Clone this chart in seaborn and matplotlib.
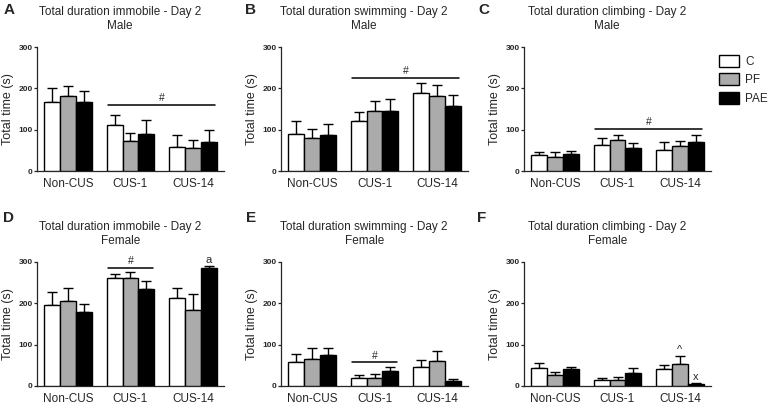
import pandas as pd
import seaborn as sns
import matplotlib.pyplot as plt
from matplotlib.patches import Patch

# categories
groups = ["Non-CUS", "CUS-1", "CUS-14"]
treatments = ["C", "PF", "PAE"]
bar_colors = ["#ffffff", "#ababab", "#000000"]

# means and SEM, rows = groups, cols = C / PF / PAE
immobile_male = [[166, 182, 167], [111, 73, 90], [58, 55, 69]]
immobile_male_sem = [[35, 24, 26], [25, 20, 33], [28, 19, 29]]
swimming_male = [[90, 79, 87], [122, 146, 145], [188, 182, 157]]
swimming_male_sem = [[32, 22, 27], [20, 23, 28], [26, 25, 27]]
climbing_male = [[39, 33, 41], [63, 75, 56], [51, 60, 69]]
climbing_male_sem = [[8, 12, 7], [17, 11, 11], [19, 13, 18]]

immobile_female = [[195, 205, 179], [261, 262, 235], [214, 185, 285]]
immobile_female_sem = [[32, 33, 19], [9, 13, 19], [22, 38, 5]]
swimming_female = [[58, 65, 76], [20, 20, 37], [46, 60, 11]]
swimming_female_sem = [[20, 26, 15], [7, 10, 10], [18, 24, 6]]
climbing_female = [[43, 26, 41], [15, 14, 31], [42, 54, 5]]
climbing_female_sem = [[13, 7, 4], [5, 7, 12], [9, 18, 2]]

# significance lines: (first group, last group, y)
sig_lines = {
    "A": [(1, 2, 160)], "B": [(1, 2, 226)], "C": [(1, 2, 102)],
    "D": [(1, 1, 286)], "E": [(1, 1, 57)], "F": [],
}
# letter marks above single bars: (group, treatment, text)
bar_marks = {"D": [(2, 2, "a")], "F": [(2, 1, "^"), (2, 2, "x")]}

panels = [
    ("A", "Total duration immobile - Day 2\nMale", immobile_male, immobile_male_sem),
    ("B", "Total duration swimming - Day 2\nMale", swimming_male, swimming_male_sem),
    ("C", "Total duration climbing - Day 2\nMale", climbing_male, climbing_male_sem),
    ("D", "Total duration immobile - Day 2\nFemale", immobile_female, immobile_female_sem),
    ("E", "Total duration swimming - Day 2\nFemale", swimming_female, swimming_female_sem),
    ("F", "Total duration climbing - Day 2\nFemale", climbing_female, climbing_female_sem),
]

sns.set_theme(style="ticks")
plt.rcParams["font.family"] = ["Liberation Sans", "DejaVu Sans"]
plt.rcParams["axes.linewidth"] = 0.9

W, H = 773, 407
fig = plt.figure(figsize=(W / 100, H / 100), dpi=100)

lefts = [37, 281, 524]
tops = [47, 262]
letter_pos = [(9, 10), (251, 10), (484, 10), (9, 218), (251, 218), (482, 218)]

for k, (letter, title, means, sems) in enumerate(panels):
    row, col = divmod(k, 3)
    ax = fig.add_axes([lefts[col] / W, 1 - (tops[row] + 124) / H, 187 / W, 124 / H])

    df = pd.DataFrame({
        "group": [g for g in groups for _ in treatments],
        "treatment": [t for _ in groups for t in treatments],
        "value": [v for r in means for v in r],
    })
    sns.barplot(data=df, x="group", y="value", hue="treatment", order=groups,
                hue_order=treatments, palette=bar_colors, saturation=1,
                width=0.76, gap=0, edgecolor="black", linewidth=1.0,
                errorbar=None, legend=False, ax=ax, zorder=3)
    bar_conts = list(ax.containers)

    # upward-only SEM bars
    for i, cont in enumerate(bar_conts):
        for j, bar in enumerate(cont):
            x = bar.get_x() + bar.get_width() / 2
            ax.errorbar(x, bar.get_height(), yerr=[[0], [sems[j][i]]], fmt="none",
                        ecolor="black", elinewidth=1.0, capsize=3.6, capthick=1.0,
                        zorder=2)

    for g0, g1, y in sig_lines[letter]:
        ax.plot([g0 - 0.36, g1 + 0.36], [y, y], color="black", lw=1.1, clip_on=False)
        ax.text((g0 + g1) / 2, y + 4, "#", ha="center", va="bottom", fontsize=7.5)

    for g, t, s in bar_marks.get(letter, []):
        bar = bar_conts[t][g]
        x = bar.get_x() + bar.get_width() / 2
        ax.text(x, bar.get_height() + sems[g][t] + 3, s, ha="center", va="bottom",
                fontsize=8)

    ax.set_xlim(-0.5, 2.5)
    ax.set_ylim(0, 300)
    ax.set_yticks([0, 100, 200, 300])
    ax.set_xlabel("")
    ax.set_ylabel("Total time (s)", fontsize=9, labelpad=3)
    ax.tick_params(axis="y", length=2.5, width=0.9, pad=0.5, labelsize=6)
    for lab in ax.get_yticklabels():
        lab.set_fontweight("bold")
    ax.tick_params(axis="x", length=0, pad=5, labelsize=8.5)
    ax.set_title(title, fontsize=8.5, x=0.445, pad=13, linespacing=1.25)
    sns.despine(ax=ax)

    lx, ly = letter_pos[k]
    fig.text(lx / W, 1 - ly / H, letter, ha="center", va="center",
             fontsize=11, fontweight="bold")

handles = [Patch(facecolor=c, edgecolor="black", linewidth=1.0) for c in bar_colors]
fig.legend(handles, treatments, loc="upper left", bbox_to_anchor=(719 / W, 1 - 55 / H),
           frameon=False, fontsize=8.5, handlelength=1.7, handleheight=1.2,
           handletextpad=0.5, labelspacing=0.45, borderpad=0, borderaxespad=0)

fig.savefig("out.png", dpi=100)
